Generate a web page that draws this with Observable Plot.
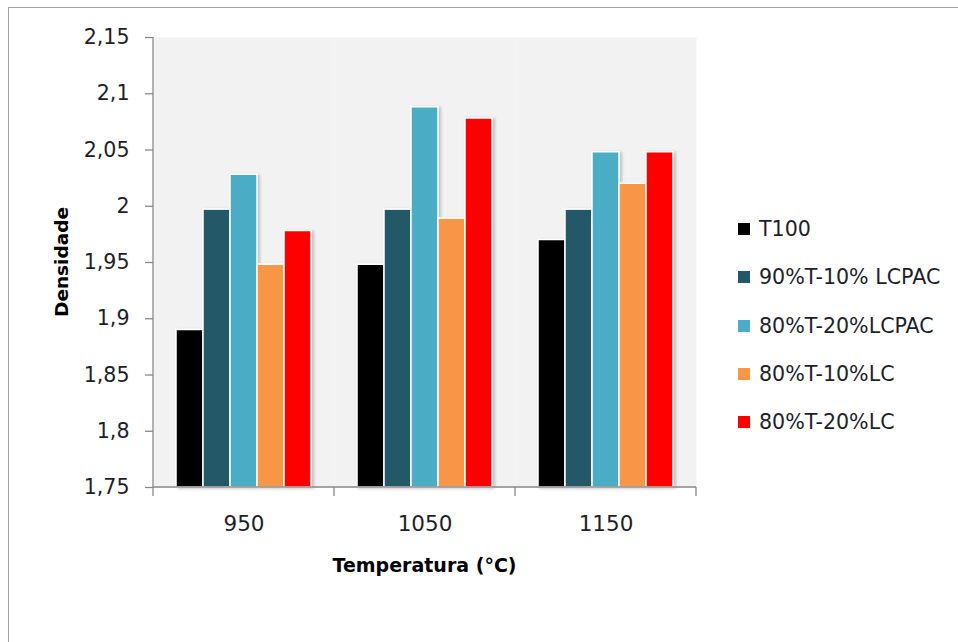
<!DOCTYPE html>
<html>
<head>
<meta charset="utf-8">
<script src="https://cdn.jsdelivr.net/npm/d3@7"></script>
<script src="https://cdn.jsdelivr.net/npm/@observablehq/plot@0.6"></script>
<style>
  body { margin: 0; background: #fff; }
  #wrap { position: relative; width: 958px; height: 642px; overflow: hidden; font-family: "DejaVu Sans", sans-serif; }
  #border { position: absolute; left: 8px; top: 7px; width: 1200px; height: 1200px; border: 1.5px solid #a3a3a3; box-sizing: border-box; }
  #chart { position: absolute; left: 0; top: 0; }
  #legend { position: absolute; left: 738px; top: 205px; }
  .item { position: absolute; left: 0; height: 24px; display: flex; align-items: center; white-space: nowrap;
          font-size: 20.6px; color: #1e1e2a; }
  .sw { width: 12px; height: 12px; margin-right: 9px; flex: none; }
</style>
</head>
<body>
<div id="wrap">
  <div id="border"></div>
  <div id="chart"></div>
  <div id="legend"></div>
</div>
<script>
// Density by firing temperature and composition
const temperatures = ["950", "1050", "1150"];
const series = ["T100", "90%T-10% LCPAC", "80%T-20%LCPAC", "80%T-10%LC", "80%T-20%LC"];
const colors = ["#000000", "#215968", "#4bacc6", "#f79646", "#ff0000"];
const density950 = [1.89, 1.997, 2.028, 1.948, 1.978];
const density1050 = [1.948, 1.997, 2.088, 1.989, 2.078];
const density1150 = [1.97, 1.997, 2.048, 2.02, 2.048];
const yTicks = [1.75, 1.8, 1.85, 1.9, 1.95, 2, 2.05, 2.1, 2.15];
const yTickLabels = ["1,75", "1,8", "1,85", "1,9", "1,95", "2", "2,05", "2,1", "2,15"];
const yTitle = "Densidade";
const xTitle = "Temperatura (°C)";

const byTemp = [density950, density1050, density1150];
const rows = temperatures.flatMap((t, i) => series.map((s, j) => ({temp: t, series: s, value: byTemp[i][j]})));

const plot = Plot.plot({
  width: 958,
  height: 642,
  marginLeft: 153,
  marginRight: 262,
  marginTop: 37,
  marginBottom: 155,
  style: {fontFamily: "DejaVu Sans, sans-serif", fontSize: "20px", background: "transparent", overflow: "visible"},
  fx: {domain: temperatures, padding: 0},
  x: {domain: series, paddingInner: 0, paddingOuter: 0.83, axis: null},
  y: {domain: [1.75, 2.15]},
  color: {domain: series, range: colors},
  marks: [
    Plot.frame({fill: "#f2f2f2", stroke: null}),
    Plot.barY(rows, {fx: "temp", x: "series", y1: 1.75, y2: "value", fill: "series",
                     stroke: "#ffffff", strokeWidth: 1.5}),
    Plot.axisY({ticks: yTicks, tickFormat: d => yTickLabels[yTicks.indexOf(d)], tickSize: 8, tickPadding: 16,
                stroke: "#888888", strokeWidth: 1.3, fill: "#1e1e2a", fontSize: 20.6, label: null}),
    Plot.axisFx({anchor: "bottom", tickSize: 0, tickPadding: 28, fill: "#1e1e2a", fontSize: 21.5, label: null})
  ]
});

document.getElementById("chart").appendChild(plot);

// Axis lines, category boundary ticks, titles and bar shadows
const svg = d3.select(plot);
const y = plot.scale("y");
const fx = plot.scale("fx");
const x0 = fx.apply(temperatures[0]);
const x1 = fx.apply(temperatures[temperatures.length - 1]) + fx.bandwidth;
const yTop = y.apply(2.15), yBot = y.apply(1.75);

const defs = svg.insert("defs", ":first-child");
const f = defs.append("filter").attr("id", "barShadow").attr("x", "-20%").attr("y", "-20%").attr("width", "150%").attr("height", "150%");
f.append("feDropShadow").attr("dx", 2).attr("dy", 1).attr("stdDeviation", 1.6)
  .attr("flood-color", "#000").attr("flood-opacity", 0.22);
svg.selectAll('g[aria-label="bar"]').attr("filter", "url(#barShadow)");

const ax = svg.append("g").attr("stroke", "#888888").attr("stroke-width", 1.3).attr("fill", "none");
ax.append("line").attr("x1", x0).attr("x2", x0).attr("y1", yTop).attr("y2", yBot);
ax.append("line").attr("x1", x0).attr("x2", x1).attr("y1", yBot).attr("y2", yBot);
temperatures.forEach(t => {
  const px = fx.apply(t);
  ax.append("line").attr("x1", px).attr("x2", px).attr("y1", yBot).attr("y2", yBot + 9);
});
ax.append("line").attr("x1", x1).attr("x2", x1).attr("y1", yBot).attr("y2", yBot + 9);

svg.append("text").text(yTitle)
  .attr("transform", `translate(68,${(yTop + yBot) / 2}) rotate(-90)`)
  .attr("text-anchor", "middle").attr("font-weight", "bold").attr("font-size", 18.5).attr("fill", "#000");
svg.append("text").text(xTitle)
  .attr("x", (x0 + x1) / 2).attr("y", 572)
  .attr("text-anchor", "middle").attr("font-weight", "bold").attr("font-size", 19).attr("fill", "#000");

// Legend built from the color scale
const color = plot.scale("color");
const legend = d3.select("#legend");
series.forEach((s, i) => {
  const it = legend.append("div").attr("class", "item").style("top", `${i * 48.3 + 12}px`);
  it.append("div").attr("class", "sw").style("background", color.apply(s));
  it.append("span").text(s);
});
</script>
</body>
</html>
